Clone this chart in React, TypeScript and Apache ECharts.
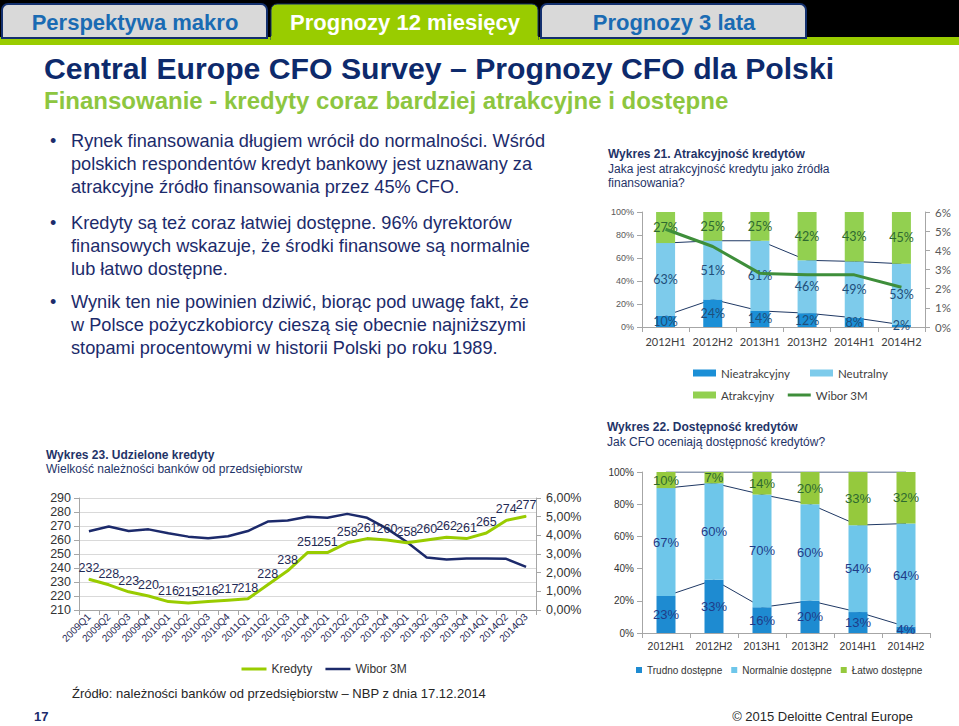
import React, { useEffect, useRef } from 'react';
import * as echarts from 'echarts';

// ---- Wykres 21: Atrakcyjność kredytów ----
const halfYears = ['2012H1', '2012H2', '2013H1', '2013H2', '2014H1', '2014H2'];
const attrUnattractive = [10, 24, 14, 12, 8, 2];
const attrNeutral = [63, 51, 61, 46, 49, 53];
const attrAttractive = [27, 25, 25, 42, 43, 45];
const wiborHalf = [5.1, 4.2, 2.8, 2.72, 2.72, 2.07];

// ---- Wykres 22: Dostępność kredytów ----
const availHard = [23, 33, 16, 20, 13, 4];
const availNormal = [67, 60, 70, 60, 54, 64];
const availEasy = [10, 7, 14, 20, 33, 32];

// ---- Wykres 23: Udzielone kredyty ----
const quarters = [
  '2009Q1', '2009Q2', '2009Q3', '2009Q4',
  '2010Q1', '2010Q2', '2010Q3', '2010Q4',
  '2011Q1', '2011Q2', '2011Q3', '2011Q4',
  '2012Q1', '2012Q2', '2012Q3', '2012Q4',
  '2013Q1', '2013Q2', '2013Q3', '2013Q4',
  '2014Q1', '2014Q2', '2014Q3',
];
const credits = [232, 228, 223, 220, 216, 215, 216, 217, 218, 228, 238, 251, 251, 258, 261, 260, 258, 260, 262, 261, 265, 274, 277];
const wiborQuarter = [4.22, 4.47, 4.23, 4.32, 4.11, 3.93, 3.85, 3.95, 4.23, 4.74, 4.79, 5.0, 4.94, 5.15, 4.94, 4.36, 3.64, 2.81, 2.7, 2.76, 2.76, 2.74, 2.31];

// ---- slide texts ----
const tabLabels = ['Perspektywa makro', 'Prognozy 12 miesięcy', 'Prognozy 3 lata'];
const slideTitle = 'Central Europe CFO Survey – Prognozy CFO dla Polski';
const slideSubtitle = 'Finansowanie - kredyty coraz bardziej atrakcyjne i dostępne';
const bullets = [
  ['Rynek finansowania długiem wrócił do normalności. Wśród', 'polskich respondentów kredyt bankowy jest uznawany za', 'atrakcyjne źródło finansowania przez 45% CFO.'],
  ['Kredyty są też coraz łatwiej dostępne. 96% dyrektorów', 'finansowych wskazuje, że środki finansowe są normalnie', 'lub łatwo dostępne.'],
  ['Wynik ten nie powinien dziwić, biorąc pod uwagę fakt, że', 'w Polsce pożyczkobiorcy cieszą się obecnie najniższymi', 'stopami procentowymi w historii Polski po roku 1989.'],
];

const ARIAL = '"Liberation Sans", Arial, Helvetica, sans-serif';
const CAL = 'Lato, "Open Sans", sans-serif';
const NAVY = '#1C2B6B';
const LINE_NAVY = '#1F3864';

function cum(a: number[], b?: number[]) {
  return a.map((v, i) => v + (b ? b[i] : 0));
}

function txt(x: number, y: number, text: string, o: any = {}) {
  return {
    type: 'text',
    x,
    y,
    z: 10,
    scaleX: o.scaleX ?? 1,
    style: {
      text,
      fill: o.fill ?? NAVY,
      fontSize: o.fontSize ?? 12,
      fontWeight: o.fontWeight ?? 'normal',
      fontFamily: o.fontFamily ?? ARIAL,
      align: o.align ?? 'left',
      verticalAlign: 'middle',
    },
  };
}

export default function App() {
  const ref = useRef<HTMLDivElement>(null);

  useEffect(() => {
    if (!ref.current) return;
    const chart = echarts.init(ref.current, undefined, { renderer: 'svg' });

    const graphic: any[] = [
      { type: 'rect', shape: { x: 0, y: 0, width: 959, height: 38 }, style: { fill: '#000000' } },
      { type: 'rect', shape: { x: 0, y: 37, width: 959, height: 8 }, style: { fill: '#99CC00' } },
      { type: 'rect', shape: { x: 2, y: 4, width: 265, height: 34, r: [6, 6, 0, 0] }, style: { fill: '#D9D9D9', stroke: '#13306E', lineWidth: 2 } },
      { type: 'rect', shape: { x: 271, y: 4, width: 267, height: 36, r: [6, 6, 0, 0] }, style: { fill: '#99CC00', stroke: '#13306E', lineWidth: 1 } },
      { type: 'rect', shape: { x: 271, y: 36, width: 267, height: 6 }, style: { fill: '#99CC00' } },
      { type: 'rect', shape: { x: 541, y: 4, width: 265, height: 34, r: [6, 6, 0, 0] }, style: { fill: '#D9D9D9', stroke: '#13306E', lineWidth: 2 } },
      txt(135, 22, tabLabels[0], { fill: '#1A6BB3', fontSize: 22, fontWeight: 'bold', align: 'center' }),
      txt(405, 22, tabLabels[1], { fill: '#FFFFFF', fontSize: 22, fontWeight: 'bold', align: 'center' }),
      txt(674, 22, tabLabels[2], { fill: '#1A6BB3', fontSize: 22, fontWeight: 'bold', align: 'center' }),
      txt(44, 68, slideTitle, { fill: '#0D2A6C', fontSize: 30.2, fontWeight: 'bold' }),
      txt(44, 100, slideSubtitle, { fill: '#8DC63F', fontSize: 24, fontWeight: 'bold' }),
    ];
    const bulletY = [141, 223, 302];
    bullets.forEach((lines, bi) => {
      graphic.push(txt(50, bulletY[bi], '•', { fontSize: 18 }));
      lines.forEach((l, li) => graphic.push(txt(71, bulletY[bi] + li * 22.8, l, { fontSize: 18.2 })));
    });
    graphic.push(
      txt(608, 154, 'Wykres 21. Atrakcyjność kredytów', { fontSize: 12, fontWeight: 'bold', fill: '#1F3468' }),
      txt(608, 169, 'Jaka jest atrakcyjność kredytu jako źródła', { fontSize: 12, fill: '#1F3468' }),
      txt(608, 183, 'finansowania?', { fontSize: 12, fill: '#1F3468' }),
      txt(607, 427, 'Wykres 22. Dostępność kredytów', { fontSize: 12, fontWeight: 'bold', fill: '#1F3468' }),
      txt(607, 442, 'Jak CFO oceniają dostępność kredytów?', { fontSize: 12, fill: '#1F3468' }),
      txt(46, 455, 'Wykres 23. Udzielone kredyty', { fontSize: 12, fontWeight: 'bold', fill: '#1F3468' }),
      txt(46, 469, 'Wielkość należności banków od przedsiębiorstw', { fontSize: 12, fill: '#1F3468' }),
      txt(72, 693, 'Źródło: należności banków od przedsiębiorstw – NBP z dnia 17.12.2014', { fontSize: 13, fill: '#262626' }),
      txt(34, 716, '17', { fontSize: 13, fontWeight: 'bold', fill: NAVY }),
      txt(913, 716, '© 2015 Deloitte Central Europe', { fontSize: 13, fill: '#262626', align: 'right' }),
    );

    const axisGray = '#A6A6A6';
    const blueLbl = '#1F4E79';
    const greenLbl = '#2E6930';

    const barLabel = (color: string, family: string, size: number) => ({
      show: true,
      position: 'inside',
      formatter: '{c}%',
      color,
      fontFamily: family,
      fontSize: size,
    });

    const seriesLine = (name: string, data: number[], xi: number, yi: number) => ({
      name,
      type: 'line',
      xAxisIndex: xi,
      yAxisIndex: yi,
      data,
      z: 1,
      symbol: 'none',
      lineStyle: { color: LINE_NAVY, width: 1 },
      silent: true,
    });

    const option: any = {
      animation: false,
      backgroundColor: '#FFFFFF',
      textStyle: { fontFamily: ARIAL },
      graphic,
      grid: [
        { left: 642, top: 212, width: 283, height: 115 },
        { left: 642, top: 472, width: 288, height: 161 },
        { left: 79, top: 498, width: 457, height: 112 },
      ],
      legend: [
        {
          left: 688, top: 362, itemWidth: 23, itemHeight: 7, itemGap: 20,
          textStyle: { fontFamily: CAL, fontSize: 11.5, color: '#404040' },
          data: [{ name: 'Nieatrakcyjny', icon: 'rect' }, { name: 'Neutralny', icon: 'rect' }],
        },
        {
          left: 688, top: 384, itemWidth: 23, itemHeight: 7, itemGap: 12,
          textStyle: { fontFamily: CAL, fontSize: 11.5, color: '#404040' },
          data: [
            { name: 'Atrakcyjny', icon: 'rect' },
            { name: 'Wibor 3M', lineStyle: { color: '#3E8E3A', width: 3 }, itemStyle: { opacity: 0 } },
          ],
        },
        {
          left: 631, top: 660, itemWidth: 6, itemHeight: 6, itemGap: 9,
          textStyle: { fontFamily: ARIAL, fontSize: 10, color: '#333333' },
          data: [
            { name: 'Trudno dostępne', icon: 'rect' },
            { name: 'Normalnie dostępne', icon: 'rect' },
            { name: 'Łatwo dostępne', icon: 'rect' },
          ],
        },
        {
          left: 235, top: 658, itemWidth: 25, itemHeight: 4, itemGap: 12,
          textStyle: { fontFamily: ARIAL, fontSize: 12, color: '#333333' },
          data: [
            { name: 'Kredyty', lineStyle: { color: '#99CC00', width: 3 }, itemStyle: { opacity: 0 } },
            { name: 'Wibor 3M', lineStyle: { color: '#1C2A6B', width: 2.5 }, itemStyle: { opacity: 0 } },
          ],
        },
      ],
      xAxis: [
        {
          type: 'category', gridIndex: 0, data: halfYears,
          axisLine: { lineStyle: { color: axisGray } },
          axisTick: { show: true, lineStyle: { color: axisGray } },
          axisLabel: { fontFamily: CAL, fontSize: 11, color: '#404040', margin: 9, interval: 0 },
        },
        {
          type: 'category', gridIndex: 1, data: halfYears,
          axisLine: { lineStyle: { color: axisGray } },
          axisTick: { show: true, lineStyle: { color: axisGray } },
          axisLabel: { fontFamily: ARIAL, fontSize: 10.5, color: '#333333', margin: 7, interval: 0 },
        },
        {
          type: 'category', gridIndex: 2, data: quarters,
          axisLine: { lineStyle: { color: axisGray } },
          axisTick: { show: true, lineStyle: { color: axisGray } },
          axisLabel: { fontFamily: ARIAL, fontSize: 10, color: '#1F2A55', rotate: 45, margin: 5, interval: 0 },
        },
      ],
      yAxis: [
        {
          type: 'value', gridIndex: 0, min: 0, max: 100, interval: 20,
          axisLine: { show: true, lineStyle: { color: axisGray } },
          axisTick: { show: true, lineStyle: { color: axisGray } },
          splitLine: { show: false },
          axisLabel: { formatter: '{value}%', fontFamily: ARIAL, fontSize: 9, color: '#595959', margin: 8 },
        },
        {
          type: 'value', gridIndex: 0, position: 'right', min: 0, max: 6, interval: 1,
          axisLine: { show: true, lineStyle: { color: axisGray } },
          axisTick: { show: true, lineStyle: { color: axisGray } },
          splitLine: { show: false },
          axisLabel: { formatter: '{value}%', fontFamily: CAL, fontSize: 11.5, color: '#595959', margin: 10 },
        },
        {
          type: 'value', gridIndex: 1, min: 0, max: 100, interval: 20,
          axisLine: { show: true, lineStyle: { color: axisGray } },
          axisTick: { show: true, lineStyle: { color: axisGray } },
          splitLine: { show: false },
          axisLabel: { formatter: '{value}%', fontFamily: ARIAL, fontSize: 10, color: '#333333', margin: 8 },
        },
        {
          type: 'value', gridIndex: 2, min: 210, max: 290, interval: 10,
          axisLine: { show: true, lineStyle: { color: axisGray } },
          axisTick: { show: true, lineStyle: { color: axisGray } },
          splitLine: { show: true, lineStyle: { color: '#D9D9D9' } },
          axisLabel: { fontFamily: ARIAL, fontSize: 12.5, color: '#333333', margin: 8 },
        },
        {
          type: 'value', gridIndex: 2, position: 'right', min: 0, max: 6, interval: 1,
          axisLine: { show: true, lineStyle: { color: axisGray } },
          axisTick: { show: true, lineStyle: { color: axisGray } },
          splitLine: { show: false },
          axisLabel: {
            formatter: (v: number) => v.toFixed(2).replace('.', ',') + '%',
            fontFamily: ARIAL, fontSize: 12.5, color: '#333333', margin: 10,
          },
        },
      ],
      series: [
        // Wykres 21
        seriesLine('sl21a', cum(attrUnattractive), 0, 0),
        seriesLine('sl21b', cum(attrUnattractive, attrNeutral), 0, 0),
        {
          name: 'Nieatrakcyjny', type: 'bar', stack: 's21', xAxisIndex: 0, yAxisIndex: 0, barWidth: 19, z: 2,
          data: attrUnattractive, itemStyle: { color: '#1B8FD6' }, label: barLabel(blueLbl, CAL, 12.5),
        },
        {
          name: 'Neutralny', type: 'bar', stack: 's21', xAxisIndex: 0, yAxisIndex: 0, barWidth: 19, z: 2,
          data: attrNeutral, itemStyle: { color: '#7DCBEB' }, label: barLabel(blueLbl, CAL, 12.5),
        },
        {
          name: 'Atrakcyjny', type: 'bar', stack: 's21', xAxisIndex: 0, yAxisIndex: 0, barWidth: 19, z: 2,
          data: attrAttractive, itemStyle: { color: '#92D050' }, label: barLabel(greenLbl, CAL, 12.5),
        },
        {
          name: 'Wibor 3M', type: 'line', xAxisIndex: 0, yAxisIndex: 1, data: wiborHalf, z: 5,
          symbol: 'none', lineStyle: { color: '#3E8E3A', width: 3 }, itemStyle: { color: '#3E8E3A' },
        },
        // Wykres 22
        seriesLine('sl22a', cum(availHard), 1, 2),
        seriesLine('sl22b', cum(availHard, availNormal), 1, 2),
        seriesLine('sl22c', cum(cum(availHard, availNormal), availEasy), 1, 2),
        {
          name: 'Trudno dostępne', type: 'bar', stack: 's22', xAxisIndex: 1, yAxisIndex: 2, barWidth: 19, z: 2,
          data: availHard, itemStyle: { color: '#1E8BD1' }, label: barLabel('#1F3C88', ARIAL, 13),
        },
        {
          name: 'Normalnie dostępne', type: 'bar', stack: 's22', xAxisIndex: 1, yAxisIndex: 2, barWidth: 19, z: 2,
          data: availNormal, itemStyle: { color: '#6EC6EA' }, label: barLabel('#1F3C88', ARIAL, 13),
        },
        {
          name: 'Łatwo dostępne', type: 'bar', stack: 's22', xAxisIndex: 1, yAxisIndex: 2, barWidth: 19, z: 2,
          data: availEasy, itemStyle: { color: '#95C93D' }, label: barLabel(greenLbl, ARIAL, 13),
        },
        // Wykres 23
        {
          name: 'Kredyty', type: 'line', xAxisIndex: 2, yAxisIndex: 3, data: credits, z: 4,
          symbol: 'circle', symbolSize: 1, showSymbol: true,
          lineStyle: { color: '#99CC00', width: 3 }, itemStyle: { color: '#99CC00' },
          label: { show: true, position: 'top', distance: 4, color: '#1F2A55', fontFamily: ARIAL, fontSize: 12.5 },
        },
        {
          name: 'Wibor 3M', type: 'line', xAxisIndex: 2, yAxisIndex: 4, data: wiborQuarter, z: 3,
          symbol: 'none', lineStyle: { color: '#1C2A6B', width: 2.5 }, itemStyle: { color: '#1C2A6B' },
        },
      ],
    };

    chart.setOption(option);
    return () => chart.dispose();
  }, []);

  return (
    <div
      ref={ref}
      style={{ position: 'fixed', left: 0, top: 0, width: 959, height: 726, background: '#fff' }}
    />
  );
}
